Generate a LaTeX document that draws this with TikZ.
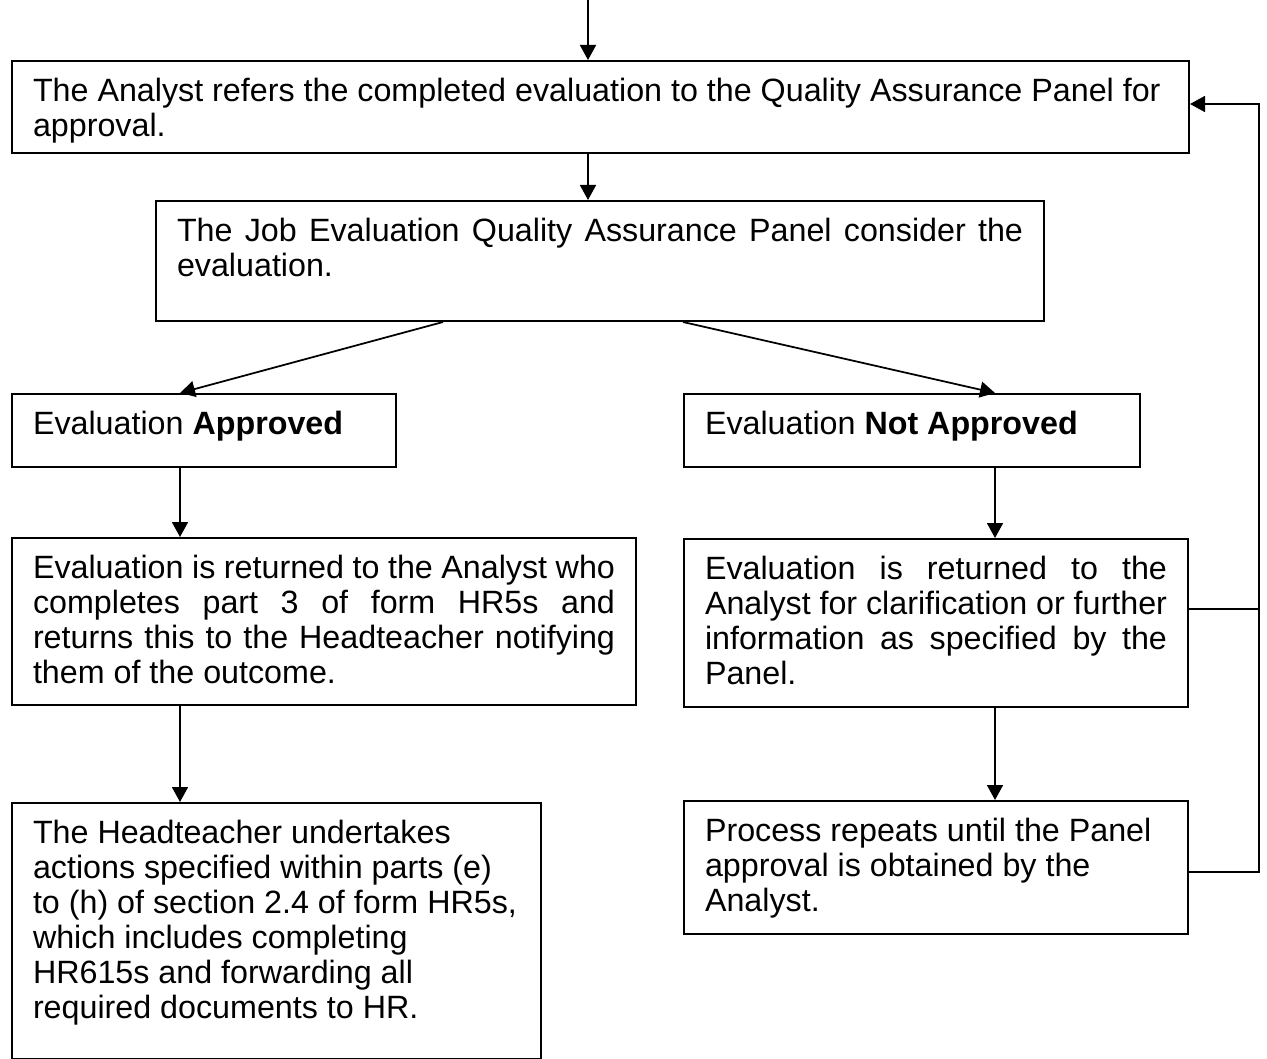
\documentclass[tikz,border=0pt]{standalone}
\usepackage{fontspec}
\setmainfont{Liberation Sans}
\usetikzlibrary{arrows.meta}
\newdimen\pxu \pxu=0.4pt
\newcommand\bx[3]{\parbox[t][#2\pxu][t]{\dimexpr#1\pxu-42\pxu\relax}{\vspace*{16\pxu}#3}}
\newcommand\Jline[1]{\makebox[\linewidth][s]{\strut #1}\par}
\newcommand\Lline[1]{\makebox[\linewidth][l]{\strut #1}\par}
\begin{document}
\begin{tikzpicture}[x=0.4pt,y=-0.4pt,
  box/.style={draw, line width=0.8pt, anchor=north west, inner xsep=8.4pt, inner ysep=0pt,
              font=\fontsize{12.9pt}{14pt}\selectfont},
  arr/.style={line width=0.7pt, -{Triangle[length=6pt,width=6.4pt]}},
  ln/.style={line width=0.7pt}]
\useasboundingbox (0,0) rectangle (1267,1059);

\node[box] (B1) at (11,60) {\bx{1177}{92}{%
  \Lline{The Analyst refers the completed evaluation to the Quality Assurance Panel for}%
  \Lline{approval.}}};
\node[box] (B2) at (155,200) {\bx{888}{120}{%
  \Jline{The Job Evaluation Quality Assurance Panel consider the}%
  \Lline{evaluation.}}};
\node[box] (B3) at (11,393) {\bx{384}{73}{%
  \Lline{Evaluation \textbf{Approved}}}};
\node[box] (B4) at (683,393) {\bx{456}{73}{%
  \Lline{Evaluation \textbf{Not Approved}}}};
\node[box] (B5) at (11,537) {\bx{624}{167}{%
  \Jline{Evaluation is returned to the Analyst who}%
  \Jline{completes part 3 of form HR5s and}%
  \Jline{returns this to the Headteacher notifying}%
  \Lline{them of the outcome.}}};
\node[box] (B6) at (683,538) {\bx{504}{168}{%
  \Jline{Evaluation is returned to the}%
  \Jline{Analyst for clarification or further}%
  \Jline{information as specified by the}%
  \Lline{Panel.}}};
\node[box] (B7) at (11,802) {\bx{529}{256}{%
  \Lline{The Headteacher undertakes}%
  \Lline{actions specified within parts (e)}%
  \Lline{to (h) of section 2.4 of form HR5s,}%
  \Lline{which includes completing}%
  \Lline{HR615s and forwarding all}%
  \Lline{required documents to HR.}}};
\node[box] (B8) at (683,800) {\bx{504}{133}{%
  \Lline{Process repeats until the Panel}%
  \Lline{approval is obtained by the}%
  \Lline{Analyst.}}};

\coordinate (top) at (588,0);
\coordinate (lx) at (180,0);
\coordinate (rx) at (995,0);
\coordinate (dl) at (443,0);
\coordinate (dr) at (683,0);
\coordinate (fbA) at (1259,609);
\coordinate (fbB) at (1259,872);
\coordinate (fbT) at (1259,104);

\draw[arr] (top) -- (top |- B1.north);
\draw[arr] (B1.south -| top) -- (B2.north -| top);
\draw[arr] (B2.south -| dl) -- (B3.north -| lx);
\draw[arr] (B2.south -| dr) -- (B4.north -| rx);
\draw[arr] (B3.south -| lx) -- (B5.north -| lx);
\draw[arr] (B5.south -| lx) -- (B7.north -| lx);
\draw[arr] (B4.south -| rx) -- (B6.north -| rx);
\draw[arr] (B6.south -| rx) -- (B8.north -| rx);
\draw[ln] (B6.east |- fbA) -- (fbA);
\draw[arr] (B8.east |- fbB) -- (fbB) -- (fbT) -- (B1.east |- fbT);
\end{tikzpicture}
\end{document}
